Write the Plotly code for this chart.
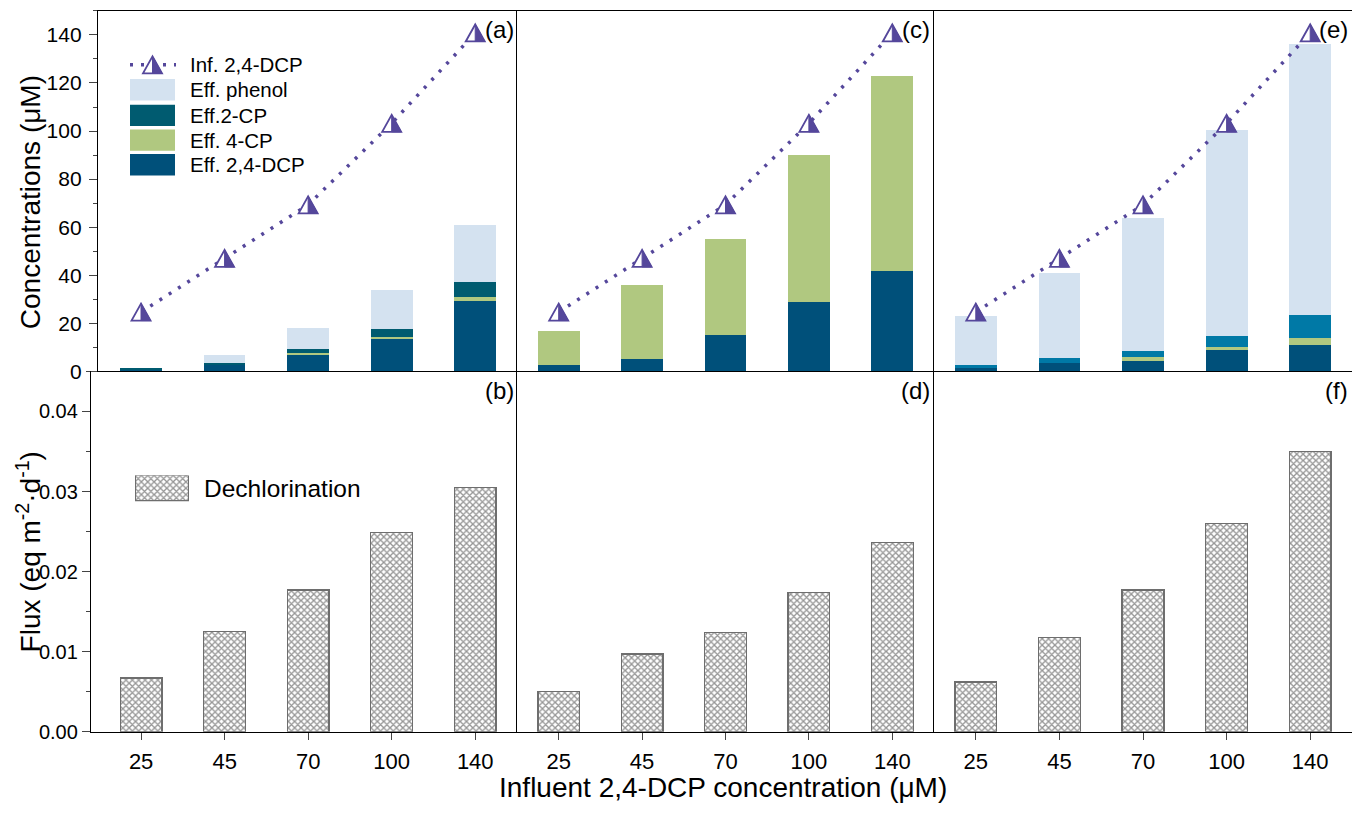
import plotly.graph_objects as go

W, H = 1352, 814
FONT = "Liberation Sans, Arial, sans-serif"

# ---- data -------------------------------------------------------------
categories = ["25", "45", "70", "100", "140"]
influent_dcp = [24.7, 47.0, 69.3, 103.2, 140.8]

# (a) effluent composition, stacked bottom to top
a_dcp = [1.0, 3.0, 7.2, 13.7, 29.1]
a_4cp = [0.0, 0.0, 0.6, 0.8, 1.7]
a_2cp = [0.2, 0.4, 1.5, 3.0, 6.6]
a_phenol = [0.0, 3.6, 8.9, 16.4, 23.5]

# (c)
c_dcp = [2.5, 5.0, 15.2, 28.7, 41.9]
c_4cp = [14.3, 31.1, 39.8, 61.3, 80.8]

# (e)
e_dcp = [1.5, 3.4, 4.5, 8.9, 11.1]
e_4cp = [0.0, 0.0, 1.7, 1.4, 2.6]
e_2cp = [1.0, 2.1, 2.4, 4.3, 9.6]
e_phenol = [20.5, 35.3, 55.3, 86.0, 113.1]

# (b), (d), (f) dechlorination flux
b_flux = [0.0067, 0.0125, 0.0177, 0.0249, 0.0305]
d_flux = [0.0050, 0.0097, 0.0124, 0.0174, 0.0236]
f_flux = [0.0062, 0.0118, 0.0177, 0.0260, 0.0350]

# ---- styles -----------------------------------------------------------
PURPLE = "#55479b"
C_PHENOL = "#d4e2f0"
C_2CP = "#005b70"
C_2CP_E = "#0079a6"
C_4CP = "#b0c880"
C_DCP = "#00507a"
HATCH = dict(shape="x", fgcolor="#2b2b2b", bgcolor="white", size=4.5, solidity=0.5)
OUTLINE = dict(color="#6e6e6e", width=1.3)
AXW = 1.3


def px(x):
    return x / W


def py(y):
    return 1 - y / H


fig = go.Figure()


def stack(xa, ya, vals, color):
    fig.add_trace(go.Bar(x=categories, y=vals, xaxis=xa, yaxis=ya, width=0.5,
                         marker=dict(color=color, line=dict(width=0)),
                         showlegend=False))


# top row: stacked effluent bars
for xa, ya, parts in [
    ("x", "y", [(a_dcp, C_DCP), (a_4cp, C_4CP), (a_2cp, C_2CP), (a_phenol, C_PHENOL)]),
    ("x2", "y2", [(c_dcp, C_DCP), (c_4cp, C_4CP)]),
    ("x3", "y3", [(e_dcp, C_DCP), (e_4cp, C_4CP), (e_2cp, C_2CP_E), (e_phenol, C_PHENOL)]),
]:
    for vals, col in parts:
        stack(xa, ya, vals, col)
    fig.add_trace(go.Scatter(x=categories, y=influent_dcp, xaxis=xa, yaxis=ya,
                             mode="lines", showlegend=False,
                             line=dict(color=PURPLE, width=3.5, dash="3px,8px")))

# bottom row: hatched flux bars
for xa, ya, vals in [("x4", "y4", b_flux), ("x5", "y5", d_flux), ("x6", "y6", f_flux)]:
    fig.add_trace(go.Bar(x=categories, y=vals, xaxis=xa, yaxis=ya, width=0.5,
                         marker=dict(color="white", pattern=HATCH, line=OUTLINE),
                         showlegend=False))

# swatch for the "Dechlorination" key
fig.add_trace(go.Bar(x=[0], y=[1], xaxis="x7", yaxis="y7", width=1,
                     marker=dict(color="white", pattern=HATCH, line=OUTLINE),
                     showlegend=False, hoverinfo="skip"))

# ---- half-filled triangle glyphs ------------------------------------
TRI = "M-9.5,-8.5 L9.5,-8.5 L0,8.5 Z"
TRI_HALF = "M0,-8.5 L9.5,-8.5 L0,8.5 Z"
shapes = []


def triangle(xref, yref, xa, ya):
    shapes.append(dict(type="path", xref=xref, yref=yref, xsizemode="pixel",
                       ysizemode="pixel", xanchor=xa, yanchor=ya, path=TRI,
                       fillcolor="white", line=dict(color=PURPLE, width=1.8),
                       layer="above"))
    shapes.append(dict(type="path", xref=xref, yref=yref, xsizemode="pixel",
                       ysizemode="pixel", xanchor=xa, yanchor=ya, path=TRI_HALF,
                       fillcolor=PURPLE, line=dict(color=PURPLE, width=1),
                       layer="above"))


for xr, yr in [("x", "y"), ("x2", "y2"), ("x3", "y3")]:
    for i, v in enumerate(influent_dcp):
        triangle(xr, yr, i, v)

# ---- key for the top-left panel -------------------------------------
annotations = []


def label(text, x, y, size, xanchor="left", **kw):
    annotations.append(dict(text=text, x=px(x), y=py(y), xref="paper", yref="paper",
                            xanchor=xanchor, yanchor="middle", showarrow=False,
                            font=dict(size=size), **kw))


shapes.append(dict(type="line", xref="paper", yref="paper",
                   x0=px(130), x1=px(176), y0=py(65.7), y1=py(65.7),
                   line=dict(color=PURPLE, width=3.5, dash="3px,8px")))
triangle("paper", "paper", px(152.5), py(65.7))
label("Inf. 2,4-DCP", 188, 65.7, 20.5)
key_rows = [("Eff. phenol", C_PHENOL, 91), ("Eff.2-CP", C_2CP, 117),
            ("Eff. 4-CP", C_4CP, 142), ("Eff. 2,4-DCP", C_DCP, 167)]
for text, col, yc in key_rows:
    shapes.append(dict(type="rect", xref="paper", yref="paper",
                       x0=px(130), x1=px(175), y0=py(yc + 10.8), y1=py(yc - 10.8),
                       fillcolor=col, line=dict(width=0)))
    label(text, 188, yc, 20.5)

label("Dechlorination", 202, 495, 24.5)

# panel letters
for letter, xr, yc in [("(a)", 516, 30), ("(c)", 932, 30), ("(e)", 1350, 30),
                       ("(b)", 516, 396), ("(d)", 932, 396), ("(f)", 1350, 396)]:
    label(letter, xr, yc, 24, xanchor="right")

# axis titles
label("Concentrations (μM)", 30, 205, 28, xanchor="center", textangle=-90)
label("Flux (eq m<sup>-2</sup>·d<sup>-1</sup>)", 29, 560, 28, xanchor="center",
      textangle=-90)
label("Influent 2,4-DCP concentration (μM)", 723, 798, 28, xanchor="center")

# ---- axes -------------------------------------------------------------
TOP = (py(376.5), py(11))
BOT = (py(741.7), py(376.5))
COLS_TOP = [(px(98), px(517)), (px(517), px(934)), (px(934), 1.0)]
COLS_BOT = [(px(91), px(517)), (px(517), px(934)), (px(934), 1.0)]
XR_TOP = [[-0.515, 4.5], [-0.5, 4.5], [-0.5, 4.5]]
XR_BOT = [[-0.6, 4.5], [-0.5, 4.5], [-0.5, 4.5]]


def line_kw(mirror):
    return dict(showline=True, linecolor="black", linewidth=AXW, mirror=mirror,
                showgrid=False, zeroline=False)


layout = dict(width=W, height=H, margin=dict(l=0, r=0, t=0, b=0),
              paper_bgcolor="white", plot_bgcolor="white", barmode="stack",
              font=dict(family=FONT, color="black", size=22),
              showlegend=False, shapes=shapes, annotations=annotations)

for k in range(3):
    n = "" if k == 0 else str(k + 1)
    layout["xaxis" + n] = dict(domain=list(COLS_TOP[k]), anchor="y" + n,
                               type="category", categoryorder="array",
                               categoryarray=categories, range=XR_TOP[k],
                               showticklabels=False, ticks="", **line_kw(True))
    ydict = dict(domain=list(TOP), anchor="x" + n, range=[0, 150], **line_kw(False))
    if k == 0:
        ydict.update(ticks="outside", ticklen=8, tickwidth=AXW, dtick=20,
                     tickfont=dict(size=21), ticklabelstandoff=3,
                     minor=dict(dtick=10, ticks="outside", ticklen=4, tickwidth=AXW))
    else:
        ydict.update(showticklabels=False, ticks="")
    layout["yaxis" + n] = ydict

for k in range(3):
    n = str(k + 4)
    layout["xaxis" + n] = dict(domain=list(COLS_BOT[k]), anchor="y" + n,
                               type="category", categoryorder="array",
                               categoryarray=categories, range=XR_BOT[k],
                               ticks="outside", ticklen=7, tickwidth=AXW,
                               tickfont=dict(size=22), ticklabelstandoff=3,
                               **line_kw(False))
    ydict = dict(domain=list(BOT), anchor="x" + n, range=[0, 0.045], **line_kw(False))
    if k == 0:
        ydict.update(ticks="outside", ticklen=8, tickwidth=AXW, dtick=0.01,
                     tickformat=".2f", tickfont=dict(size=20), ticklabelstandoff=0,
                     minor=dict(dtick=0.005, ticks="outside", ticklen=4, tickwidth=AXW))
    else:
        ydict.update(showticklabels=False, ticks="")
    layout["yaxis" + n] = ydict

layout["xaxis7"] = dict(domain=[px(135), px(189)], anchor="y7", range=[-0.5, 0.5],
                        visible=False)
layout["yaxis7"] = dict(domain=[py(508), py(482)], anchor="x7", range=[0, 1],
                        visible=False)

fig.update_layout(**layout)
fig.write_html("out.html")
